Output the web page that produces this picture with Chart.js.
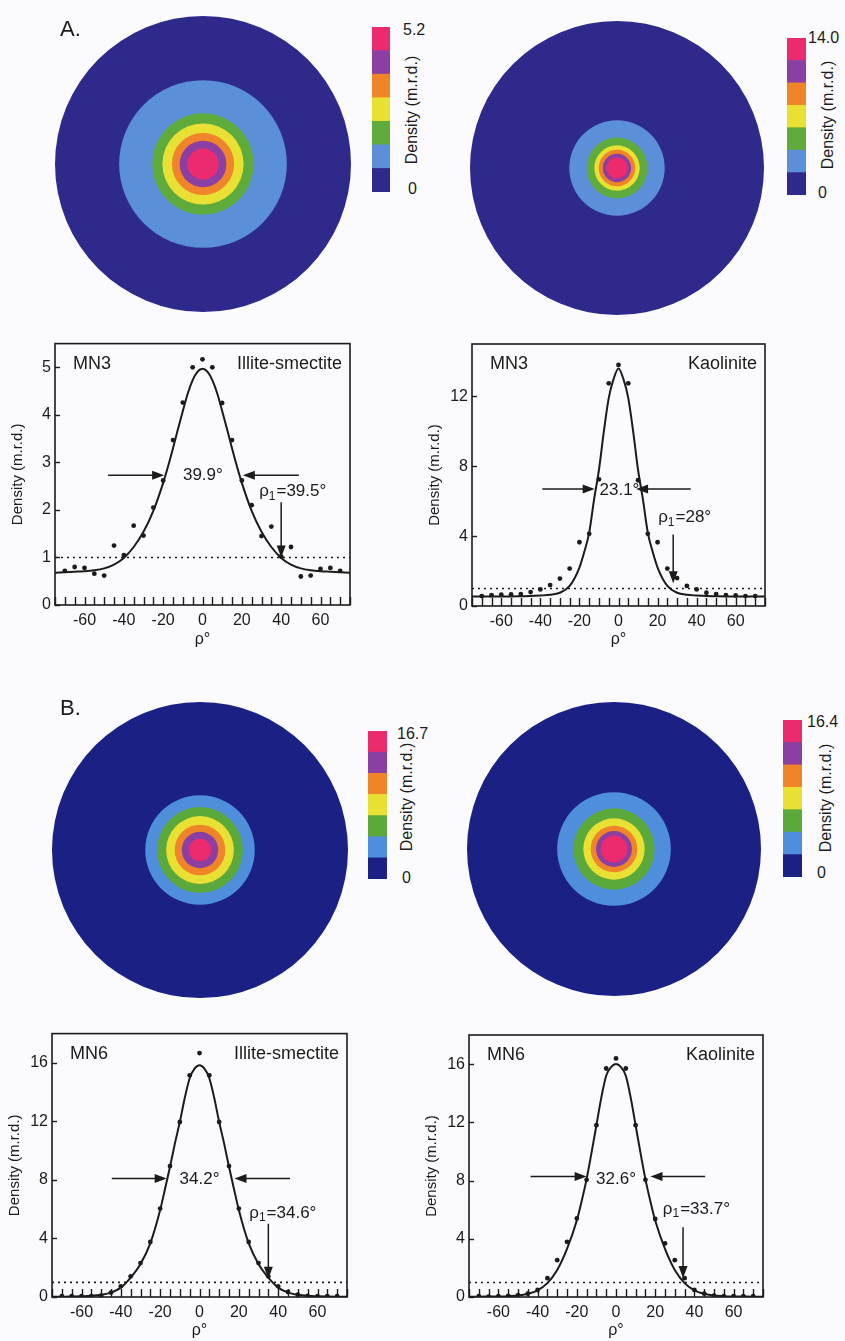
<!DOCTYPE html>
<html>
<head>
<meta charset="utf-8">
<script src="https://cdn.jsdelivr.net/npm/chart.js@4.4.1/dist/chart.umd.min.js"></script>
<style>
  html, body { margin: 0; padding: 0; background: #fbfbfd; }
  #page { position: relative; width: 845px; height: 1341px; overflow: hidden;
          font-family: "Liberation Sans", Arial, Helvetica, sans-serif; color: #1b1b1b; }
  #page canvas { position: absolute; }
  .txt { position: absolute; white-space: nowrap; line-height: 1; transform: translateY(-50%); }
  .rot { position: absolute; white-space: nowrap; line-height: 1; font-size: 16px;
         transform: translate(-50%, -50%) rotate(-90deg); }
</style>
</head>
<body>
<div id="page"></div>
<script>
// ---- data ----
const rhoDots = [-70, -65, -60, -55, -50, -45, -40, -35, -30, -25, -20, -15, -10, -5, 0,
                 5, 10, 15, 20, 25, 30, 35, 40, 45, 50, 55, 60, 65, 70];
const mn3IsDots = [0.72, 0.80, 0.78, 0.66, 0.62, 1.25, 1.05, 1.67, 1.46, 2.05, 2.62, 3.47, 4.26, 5.00, 5.17,
                   5.00, 4.25, 3.47, 2.62, 2.10, 1.45, 1.65, 1.02, 1.22, 0.60, 0.62, 0.76, 0.78, 0.72];
const mn3KaoDots = [0.57, 0.62, 0.65, 0.66, 0.68, 0.80, 0.95, 1.20, 1.57, 2.14, 3.65, 4.13, 7.25, 12.75, 13.8,
                    12.75, 7.20, 4.13, 3.65, 2.14, 1.60, 1.15, 0.95, 0.76, 0.68, 0.62, 0.60, 0.57, 0.57];
const mn6IsDots = [0.05, 0.05, 0.05, 0.05, 0.10, 0.30, 0.73, 1.41, 2.32, 3.76, 6.04, 8.95, 11.96, 15.15, 16.67,
                   15.15, 11.96, 8.95, 6.04, 3.76, 2.32, 1.41, 0.73, 0.34, 0.16, 0.07, 0.05, 0.05, 0.05];
const mn6KaoDots = [0.05, 0.03, 0.05, 0.08, 0.12, 0.23, 0.48, 1.29, 2.53, 3.79, 5.40, 8.05, 11.8, 15.7, 16.39,
                    15.7, 11.8, 8.05, 5.36, 3.68, 2.53, 1.29, 0.48, 0.23, 0.10, 0.05, 0.05, 0.05, 0.05];

const rhoFit = [-75, -70, -65, -60, -55, -50, -45, -40, -35, -30, -25, -20, -17.5, -15, -12.5, -10, -7.5, -5, -2.5, 0,
                2.5, 5, 7.5, 10, 12.5, 15, 17.5, 20, 25, 30, 35, 40, 45, 50, 55, 60, 65, 70, 75];
const mn3IsFit = [0.68, 0.69, 0.70, 0.71, 0.73, 0.77, 0.85, 0.99, 1.22, 1.54, 1.98, 2.57, 2.92, 3.30, 3.70, 4.08, 4.45, 4.73, 4.91, 4.97,
                  4.91, 4.73, 4.45, 4.08, 3.70, 3.30, 2.92, 2.57, 1.98, 1.54, 1.22, 0.99, 0.85, 0.77, 0.73, 0.71, 0.70, 0.69, 0.68];
const mn3KaoFit = [0.55, 0.55, 0.55, 0.55, 0.55, 0.56, 0.57, 0.60, 0.64, 0.76, 1.15, 2.20, 3.10, 4.20, 6.10, 7.80, 10.0, 11.9, 13.0, 13.6,
                   13.0, 11.9, 10.0, 7.80, 6.10, 4.20, 3.10, 2.20, 1.15, 0.76, 0.64, 0.60, 0.57, 0.56, 0.55, 0.55, 0.55, 0.55, 0.55];
const mn6IsFit = [0.02, 0.02, 0.03, 0.05, 0.08, 0.15, 0.30, 0.64, 1.32, 2.25, 3.68, 5.95, 7.40, 8.90, 10.5, 11.96, 13.6, 14.95, 15.6, 15.83,
                  15.6, 14.95, 13.6, 11.96, 10.5, 8.90, 7.40, 5.95, 3.68, 2.25, 1.32, 0.64, 0.30, 0.15, 0.08, 0.05, 0.03, 0.02, 0.02];
const mn6KaoFit = [0.02, 0.02, 0.03, 0.04, 0.06, 0.10, 0.22, 0.46, 0.95, 1.85, 3.30, 5.25, 6.60, 8.10, 9.90, 11.8, 13.7, 15.2, 15.8, 16.0,
                   15.8, 15.2, 13.7, 11.8, 9.90, 8.10, 6.60, 5.25, 3.30, 1.85, 0.95, 0.46, 0.22, 0.10, 0.06, 0.04, 0.03, 0.02, 0.02];

const fwhmText = ['39.9°', '23.1°', '34.2°', '32.6°'];
const rho1Text = ['39.5°', '28°', '34.6°', '33.7°'];
const sampleNames = ['MN3', 'MN3', 'MN6', 'MN6'];
const mineralNames = ['Illite-smectite', 'Kaolinite', 'Illite-smectite', 'Kaolinite'];

// pole figure contour radii (rho, degrees), outer to inner
const poleMn3Is = [90, 51, 30.8, 24.7, 18.9, 14.2, 9.5];
const poleMn3Kao = [90, 29.2, 18.6, 13.9, 11.2, 8.7, 6.5];
const poleMn6Is = [90, 33.3, 26.1, 20.6, 15.4, 11.1, 6.9];
const poleMn6Kao = [90, 34.8, 24.9, 18.8, 14.3, 11.0, 8.2];
const barMax = ['5.2', '14.0', '16.7', '16.4'];
const barLevels = [1, 1, 1, 1, 1, 1, 1];

// ---- styles ----
const ink = '#1b1b1b';
const fam = '"Liberation Sans", Arial, Helvetica, sans-serif';
const colorsA = ['#2d2a8c', '#5b8fd8', '#5eab3c', '#e8e033', '#ef8429', '#8b3fa2', '#ec2a6e'];
const colorsB = ['#1b2184', '#4f8edb', '#5aa93a', '#e8e033', '#ef8429', '#8b3fa2', '#ec2a6e'];

Chart.defaults.font.family = fam;
Chart.defaults.color = ink;

const page = document.getElementById('page');

function makeCanvas(x, y, w, h) {
  const c = document.createElement('canvas');
  c.width = w; c.height = h;
  c.style.left = x + 'px'; c.style.top = y + 'px';
  c.style.width = w + 'px'; c.style.height = h + 'px';
  page.appendChild(c);
  return c;
}

function put(text, x, y, size, cls) {
  const d = document.createElement('div');
  d.className = cls || 'txt';
  d.textContent = text;
  d.style.left = x + 'px'; d.style.top = y + 'px';
  d.style.fontSize = size + 'px';
  page.appendChild(d);
}

function pairs(xs, ys) {
  return xs.map((v, i) => ({ x: v, y: ys[i] }));
}

function arrow(ctx, x1, y1, x2, y2) {
  const a = Math.atan2(y2 - y1, x2 - x1), L = 12, W = 4.5;
  const c = Math.cos(a), s = Math.sin(a);
  ctx.beginPath();
  ctx.moveTo(x1, y1);
  ctx.lineTo(x2 - c * L * 0.8, y2 - s * L * 0.8);
  ctx.stroke();
  ctx.beginPath();
  ctx.moveTo(x2, y2);
  ctx.lineTo(x2 - L * c + W * s, y2 - L * s - W * c);
  ctx.lineTo(x2 - L * c - W * s, y2 - L * s + W * c);
  ctx.closePath();
  ctx.fill();
}

// frame, inward ticks, arrows and labels
const notesPlugin = {
  id: 'notes',
  afterDraw(chart, args, o) {
    const { ctx, chartArea: a, scales: { x, y } } = chart;
    ctx.save();
    ctx.strokeStyle = ink; ctx.fillStyle = ink;
    ctx.lineWidth = 1.6;
    ctx.strokeRect(a.left, a.top, a.right - a.left, a.bottom - a.top);
    ctx.lineWidth = 1.4;
    x.ticks.forEach(t => {
      const px = Math.round(x.getPixelForValue(t.value)) + 0.5;
      ctx.beginPath(); ctx.moveTo(px, a.bottom); ctx.lineTo(px, a.bottom - 8); ctx.stroke();
    });
    y.ticks.forEach(t => {
      const py = Math.round(y.getPixelForValue(t.value)) + 0.5;
      ctx.beginPath(); ctx.moveTo(a.left, py); ctx.lineTo(a.left + 5, py); ctx.stroke();
    });
    ctx.lineWidth = 1.5;
    o.arrows.forEach(([x1, y1, x2, y2]) =>
      arrow(ctx, x.getPixelForValue(x1), y.getPixelForValue(y1), x.getPixelForValue(x2), y.getPixelForValue(y2)));

    ctx.textBaseline = 'middle';
    ctx.font = '18px ' + fam;
    ctx.textAlign = 'left';
    ctx.fillText(o.sample, a.left + 18, a.top + 20);
    ctx.textAlign = 'right';
    ctx.fillText(o.mineral, a.right - 8, a.top + 20);

    ctx.font = '17px ' + fam;
    ctx.textAlign = 'center';
    ctx.fillText(o.fwhm, x.getPixelForValue(o.fwhmAt[0]), y.getPixelForValue(o.fwhmAt[1]));

    let px = x.getPixelForValue(o.rho1At[0]);
    const py = y.getPixelForValue(o.rho1At[1]);
    ctx.textAlign = 'left';
    ctx.fillText('ρ', px, py); px += ctx.measureText('ρ').width;
    ctx.font = '12px ' + fam;
    ctx.fillText('1', px, py + 5); px += ctx.measureText('1').width + 1;
    ctx.font = '17px ' + fam;
    ctx.fillText('=' + o.rho1, px, py);
    ctx.restore();
  }
};

function profileChart(p) {
  const b = p.box;
  const cv = makeCanvas(b.left, b.top, b.w, b.h);
  return new Chart(cv, {
    type: 'scatter',
    data: {
      datasets: [
        { type: 'line', data: pairs(rhoFit, p.fit), borderColor: ink, borderWidth: 2, pointRadius: 0,
          cubicInterpolationMode: 'monotone' },
        { data: pairs(rhoDots, p.dots), backgroundColor: ink, borderWidth: 0, pointRadius: 2.4 },
        { type: 'line', data: [{ x: -75, y: 1 }, { x: 75, y: 1 }], borderColor: ink, borderWidth: 1.6,
          borderDash: [2, 4], pointRadius: 0 }
      ]
    },
    options: {
      responsive: false,
      animation: false,
      layout: { padding: { top: b.padTop, right: b.padRight, left: 0, bottom: 0 } },
      plugins: {
        legend: { display: false },
        tooltip: { enabled: false },
        notes: {
          arrows: p.arrows, sample: p.sample, mineral: p.mineral,
          fwhm: p.fwhm, fwhmAt: p.fwhmAt, rho1: p.rho1, rho1At: p.rho1At
        }
      },
      scales: {
        x: {
          type: 'linear', min: -75, max: 75,
          ticks: { stepSize: 5, autoSkip: false, maxRotation: 0, includeBounds: false, padding: 6,
                   font: { size: 16 }, callback: v => (v % 20 === 0 ? String(v) : '') },
          grid: { display: false, drawTicks: false },
          border: { display: false },
          title: { display: true, text: 'ρ°', font: { size: 16 }, padding: { top: 0, bottom: 1 } },
          afterFit: s => { s.height = b.xh; }
        },
        y: {
          min: 0, max: p.ymax,
          ticks: { stepSize: p.ystep, includeBounds: false, padding: 4, font: { size: 16 } },
          grid: { display: false, drawTicks: false },
          border: { display: false },
          title: { display: true, text: 'Density (m.r.d.)', font: { size: 15 },
                   padding: { top: b.yTitlePad, bottom: 0 } },
          afterFit: s => { s.width = b.yw; }
        }
      }
    },
    plugins: [notesPlugin]
  });
}

function poleChart(spec, radii, colors) {
  const cv = makeCanvas(spec[0], spec[1], spec[2], spec[2]);
  const sets = radii.map((r, i) => ({ data: [r], backgroundColor: colors[i], borderWidth: 0 })).reverse();
  return new Chart(cv, {
    type: 'polarArea',
    data: { labels: ['ρ'], datasets: sets },
    options: {
      responsive: false,
      animation: false,
      layout: { padding: 0 },
      plugins: { legend: { display: false }, tooltip: { enabled: false } },
      scales: { r: { display: false, min: 0, max: 90 } }
    }
  });
}

function colorBar(spec, colors) {
  const cv = makeCanvas(spec[0], spec[1], spec[2], spec[3]);
  return new Chart(cv, {
    type: 'bar',
    data: {
      labels: [''],
      datasets: barLevels.map((v, i) => ({
        data: [v], backgroundColor: colors[i], borderWidth: 0, barPercentage: 1, categoryPercentage: 1
      }))
    },
    options: {
      responsive: false,
      animation: false,
      layout: { padding: 0 },
      plugins: { legend: { display: false }, tooltip: { enabled: false } },
      scales: {
        x: { display: false, stacked: true },
        y: { display: false, stacked: true, min: 0, max: barLevels.length }
      }
    }
  });
}

// ---- panels ----
const panels = [
  { dots: mn3IsDots, fit: mn3IsFit, ymax: 5.5, ystep: 1,
    box: { left: 0, top: 330, w: 360, h: 320, padTop: 13, padRight: 10, yw: 55, xh: 45, yTitlePad: 9 },
    arrows: [[-48, 2.73, -19.5, 2.73], [49, 2.73, 20.5, 2.73], [40, 2.16, 40, 1.0]],
    fwhmAt: [0.2, 2.73], rho1At: [28.8, 2.39] },
  { dots: mn3KaoDots, fit: mn3KaoFit, ymax: 15, ystep: 4,
    box: { left: 410, top: 330, w: 365, h: 320, padTop: 14, padRight: 10, yw: 62, xh: 44, yTitlePad: 16 },
    arrows: [[-39, 6.7, -12.2, 6.7], [37, 6.7, 9, 6.7], [28, 4.1, 28, 1.3]],
    fwhmAt: [0.5, 6.6], rho1At: [20.3, 5.07] },
  { dots: mn6IsDots, fit: mn6IsFit, ymax: 18, ystep: 4,
    box: { left: 0, top: 1020, w: 360, h: 321, padTop: 13, padRight: 13, yw: 52, xh: 44, yTitlePad: 6 },
    arrows: [[-44.6, 8.09, -16.7, 8.09], [46, 8.09, 17.8, 8.09], [35, 5.0, 35, 1.25]],
    fwhmAt: [0, 8.05], rho1At: [25.3, 5.74] },
  { dots: mn6KaoDots, fit: mn6KaoFit, ymax: 18, ystep: 4,
    box: { left: 410, top: 1020, w: 365, h: 321, padTop: 15, padRight: 12, yw: 59, xh: 44, yTitlePad: 13 },
    arrows: [[-43.6, 8.28, -15, 8.28], [45.5, 8.28, 17.6, 8.28], [34.2, 4.8, 34.2, 1.3]],
    fwhmAt: [0, 8.07], rho1At: [23.9, 6.05] }
];

panels.forEach((p, i) => {
  p.sample = sampleNames[i];
  p.mineral = mineralNames[i];
  p.fwhm = fwhmText[i];
  p.rho1 = rho1Text[i];
  profileChart(p);
});

// pole figures: [left, top, size]
poleChart([55, 16, 296], poleMn3Is, colorsA);
poleChart([470, 21, 294], poleMn3Kao, colorsA);
poleChart([52, 702, 296], poleMn6Is, colorsB);
poleChart([467, 702, 294], poleMn6Kao, colorsB);

// colour bars: [left, top, width, height]
const bars = [
  { spec: [372, 27, 18, 165], colors: colorsA, top: [403, 30], zero: [408, 189], title: [412, 110] },
  { spec: [787, 38, 19, 157], colors: colorsA, top: [808, 38], zero: [818, 193], title: [828, 115] },
  { spec: [368, 731, 19, 148], colors: colorsB, top: [397, 734], zero: [402, 878], title: [407, 797] },
  { spec: [783, 720, 19, 157], colors: colorsB, top: [807, 722], zero: [817, 873], title: [826, 798] }
];
bars.forEach((b, i) => {
  colorBar(b.spec, b.colors);
  put(barMax[i], b.top[0], b.top[1], 16);
  put('0', b.zero[0], b.zero[1], 16);
  put('Density (m.r.d.)', b.title[0], b.title[1], 16, 'rot');
});

put('A.', 60, 29, 22);
put('B.', 60, 708, 22);
</script>
</body>
</html>
